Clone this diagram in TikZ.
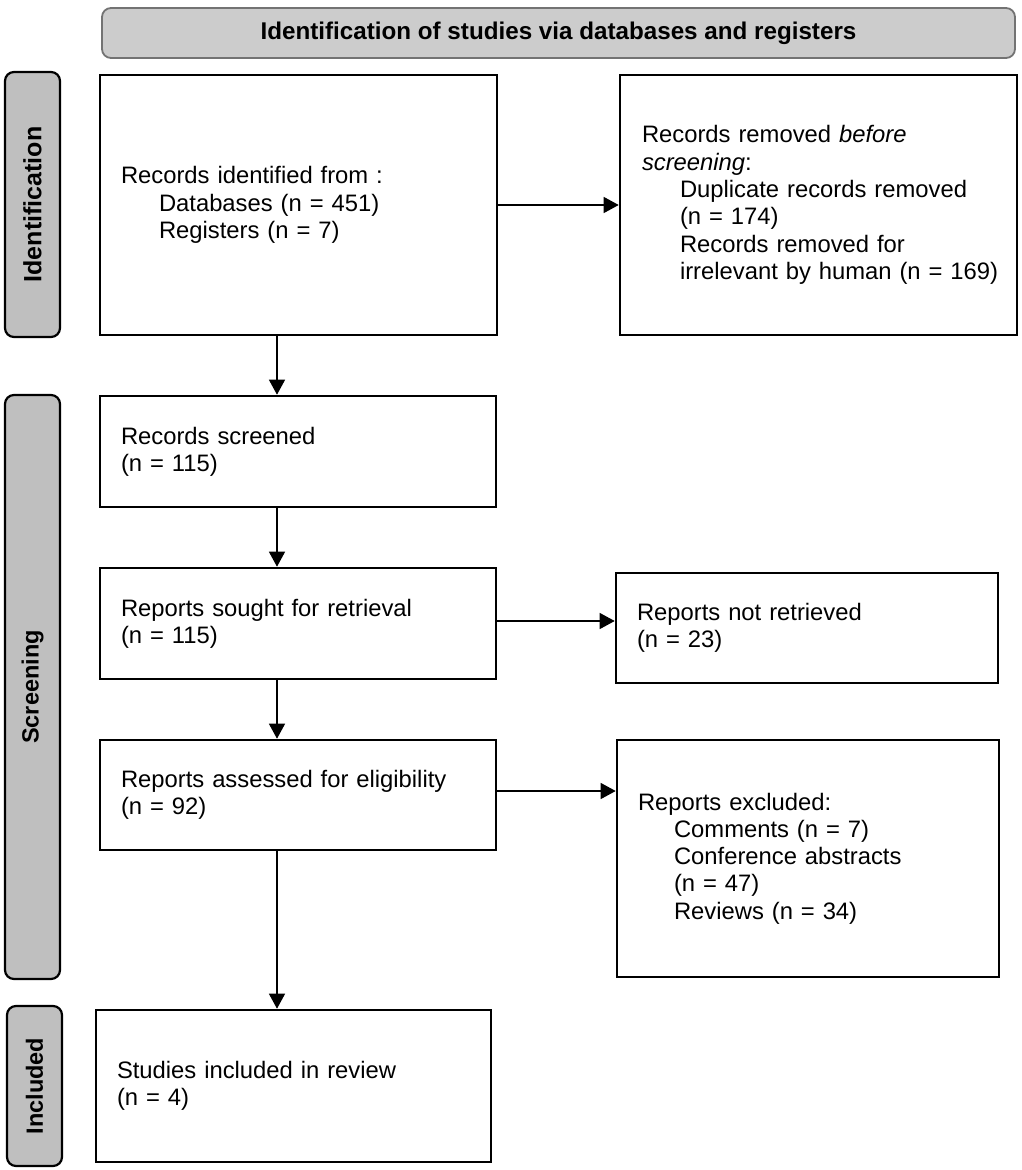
\documentclass[tikz,border=0pt]{standalone}
\usepackage{fontspec}
\setmainfont{Liberation Sans}
\usetikzlibrary{arrows.meta}
\begin{document}
\begin{tikzpicture}[x=1pt,y=-1pt,
  txt/.style={font=\fontsize{23.8}{27.3}\selectfont},
  flowbox/.style={draw=black,line width=2.6pt,fill=white,txt,align=left,inner xsep=21pt,inner ysep=0pt,anchor=center},
  sidebar/.style={draw=black,line width=2.2pt,fill=gray!50,rounded corners=9pt,inner sep=0pt,anchor=center},
  sidetxt/.style={font=\fontsize{23.5}{27}\selectfont\bfseries,rotate=90},
  conn/.style={line width=1.3pt,-{Triangle[length=15pt,width=16pt]}}]
\useasboundingbox (0,0) rectangle (1021,1170);
% header
\node[draw=gray!90!black,line width=1.8pt,fill=gray!40,rounded corners=9pt,minimum width=913pt,minimum height=50pt,inner sep=0pt,font=\fontsize{24.2}{27}\selectfont\bfseries] (hdr) at (558.5,33) {Identification of studies via databases and registers};
% side bars
\node[sidebar,minimum width=55pt,minimum height=265pt] (sid) at (32.5,204.5) {};
\node[sidetxt,font=\fontsize{25}{27}\selectfont\bfseries] (sidt) at (sid.center) {Identification};
\node[sidebar,minimum width=55pt,minimum height=584pt] (scr) at (32.5,687) {};
\node[sidetxt] (scrt) at (scr.center) {Screening};
\node[sidebar,minimum width=55pt,minimum height=160pt] (inc) at (34.5,1086) {};
\node[sidetxt] (inct) at (inc.center) {Included};
% boxes
\node[flowbox,minimum width=397pt,minimum height=260pt,text width=355pt] (b1) at (298.5,205)
  {Records identified from :\\\hspace*{38pt}Databases (n = 451)\\\hspace*{38pt}Registers (n = 7)\\[-6pt]};
\node[flowbox,minimum width=397pt,minimum height=260pt,text width=353pt,inner xsep=22pt] (b2) at (818.5,205)
  {Records removed \textit{before}\\\textit{screening}:\\\hspace*{38pt}Duplicate records removed\\\hspace*{38pt}(n = 174)\\\hspace*{38pt}Records removed for\\\hspace*{38pt}\mbox{irrelevant by human (n = 169)}};
\node[flowbox,minimum width=396pt,minimum height=111pt,text width=354pt] (b3) at (298,451.5)
  {Records screened\\(n = 115)};
\node[flowbox,minimum width=396pt,minimum height=111pt,text width=354pt] (b4) at (298,623.5)
  {Reports sought for retrieval\\(n = 115)};
\node[flowbox,minimum width=396pt,minimum height=110pt,text width=354pt] (b5) at (298,795)
  {Reports assessed for eligibility\\(n = 92)};
\node[flowbox,minimum width=382pt,minimum height=110pt,text width=340pt] (b6) at (807,628)
  {Reports not retrieved\\(n = 23)};
\node[flowbox,minimum width=382pt,minimum height=237pt,text width=340pt] (b7) at (808,858.5)
  {Reports excluded:\\\hspace*{36pt}Comments (n = 7)\\\hspace*{36pt}Conference abstracts\\\hspace*{36pt}(n = 47)\\\hspace*{36pt}Reviews (n = 34)\\[14pt]};
\node[flowbox,minimum width=395pt,minimum height=152pt,text width=353pt] (b8) at (293.5,1086)
  {Studies included in review\\(n = 4)};
% connectors
\coordinate (ax) at (277,0);
\draw[conn] (b1.east) -- (b2.west);
\draw[conn] (b1.south -| ax) -- (b3.north -| ax);
\draw[conn] (b3.south -| ax) -- (b4.north -| ax);
\draw[conn] (b4.south -| ax) -- (b5.north -| ax);
\draw[conn] (b5.south -| ax) -- (b8.north -| ax);
\draw[conn] ([yshift=2.5pt]b4.east) -- ([yshift=2.5pt]b4.east -| b6.west);
\draw[conn] ([yshift=4pt]b5.east) -- ([yshift=4pt]b5.east -| b7.west);
\end{tikzpicture}
\end{document}
